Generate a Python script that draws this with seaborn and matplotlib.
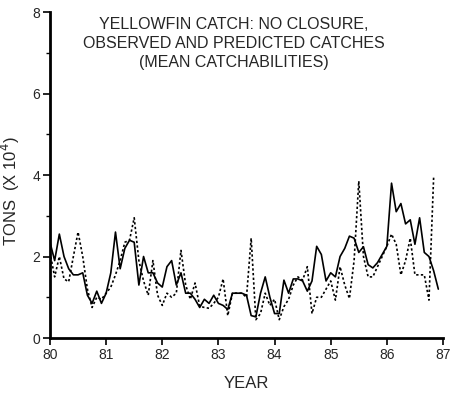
"""Yellowfin catch, observed and predicted (no closure, mean catchabilities)."""
import numpy as np
import pandas as pd
import matplotlib

matplotlib.use("Agg")
import matplotlib.pyplot as plt
import seaborn as sns

# Monthly catches, Jan 1980 - Dec 1986, in tons x 10^4.
observed = [
    2.35, 1.9, 2.55, 2.0, 1.7, 1.55, 1.55, 1.6, 1.05, 0.85, 1.15, 0.85,
    1.1, 1.6, 2.6, 1.7, 2.2, 2.4, 2.35, 1.3, 2.0, 1.6, 1.6, 1.35,
    1.25, 1.75, 1.9, 1.3, 1.6, 1.1, 1.1, 0.95, 0.75, 0.95, 0.85, 1.05,
    0.85, 0.8, 0.7, 1.1, 1.1, 1.1, 1.05, 0.55, 0.52, 1.1, 1.5, 1.0,
    0.6, 0.6, 1.42, 1.1, 1.45, 1.45, 1.4, 1.15, 1.4, 2.25, 2.05, 1.4,
    1.6, 1.5, 2.0, 2.2, 2.5, 2.45, 2.1, 2.24, 1.8, 1.72, 1.85, 2.05,
    2.25, 3.8, 3.1, 3.3, 2.8, 2.9, 2.3, 2.95, 2.1, 2.0, 1.65, 1.2,
]
predicted = [
    2.1, 1.5, 2.0, 1.45, 1.38, 2.0, 2.6, 2.0, 1.2, 0.75, 1.0, 0.95,
    1.1, 1.25, 1.55, 1.9, 2.35, 2.4, 2.95, 1.9, 1.4, 1.05, 1.9, 1.05,
    0.8, 1.1, 1.0, 1.1, 2.15, 1.3, 0.95, 1.35, 0.78, 0.75, 0.73, 0.85,
    1.0, 1.45, 0.55, 1.1, 1.1, 1.1, 1.0, 2.45, 0.45, 0.6, 1.1, 0.8,
    0.95, 0.45, 0.77, 0.95, 1.3, 1.5, 1.42, 1.75, 0.6, 1.0, 1.0, 1.2,
    1.4, 0.93, 1.75, 1.3, 0.97, 1.9, 3.85, 2.0, 1.5, 1.5, 1.75, 2.0,
    2.25, 2.55, 2.3, 1.55, 1.9, 2.45, 1.55, 1.55, 1.55, 0.93, 3.95, np.nan,
]
start_year = 80
x_ticks = [80, 81, 82, 83, 84, 85, 86, 87]
y_ticks = [0, 2, 4, 6, 8]

# Long format for seaborn.
months = np.arange(len(observed))
catch_df = pd.DataFrame(
    {
        "year": np.concatenate([start_year + months / 12] * 2),
        "tons": observed + predicted,
        "series": ["observed"] * len(observed) + ["predicted"] * len(predicted),
    }
)

sns.set_style("ticks")
plt.rcParams["font.family"] = ["Liberation Sans", "DejaVu Sans"]

fig = plt.figure(figsize=(4.56, 3.94), dpi=100)
ax = fig.add_axes([0.1096, 0.1421, 0.8619, 0.8274])

sns.lineplot(
    data=catch_df,
    x="year",
    y="tons",
    style="series",
    dashes={"observed": "", "predicted": (1.4, 1.4)},
    color="black",
    linewidth=1.2,
    legend=False,
    ax=ax,
)

# Axes limits and ticks.
ax.set_xlim(80, 87)
ax.set_ylim(0, 8)
ax.set_xticks(x_ticks)
ax.set_yticks(y_ticks)
ax.set_yticks([1, 3, 5, 7], minor=True)
ax.tick_params(axis="both", which="major", direction="out", length=5,
               width=1.2, color="black", labelsize=10, pad=2)
ax.tick_params(axis="y", which="minor", direction="out", length=3,
               width=1.0, color="black")

for side in ["top", "right"]:
    ax.spines[side].set_visible(False)
for side in ["left", "bottom"]:
    ax.spines[side].set_linewidth(2)
    ax.spines[side].set_color("black")

# Labels and title.
ax.set_xlabel("YEAR", fontsize=12, labelpad=10)
ax.set_ylabel("TONS  (X 10$^4$)", fontsize=12)
ax.yaxis.set_label_coords(-0.071, 0.45)
ax.text(
    0.468,
    0.985,
    "YELLOWFIN CATCH: NO CLOSURE,\nOBSERVED AND PREDICTED CATCHES\n(MEAN CATCHABILITIES)",
    transform=ax.transAxes,
    ha="center",
    va="top",
    fontsize=11.5,
    linespacing=1.35,
)

fig.savefig("out.png", dpi=100)
